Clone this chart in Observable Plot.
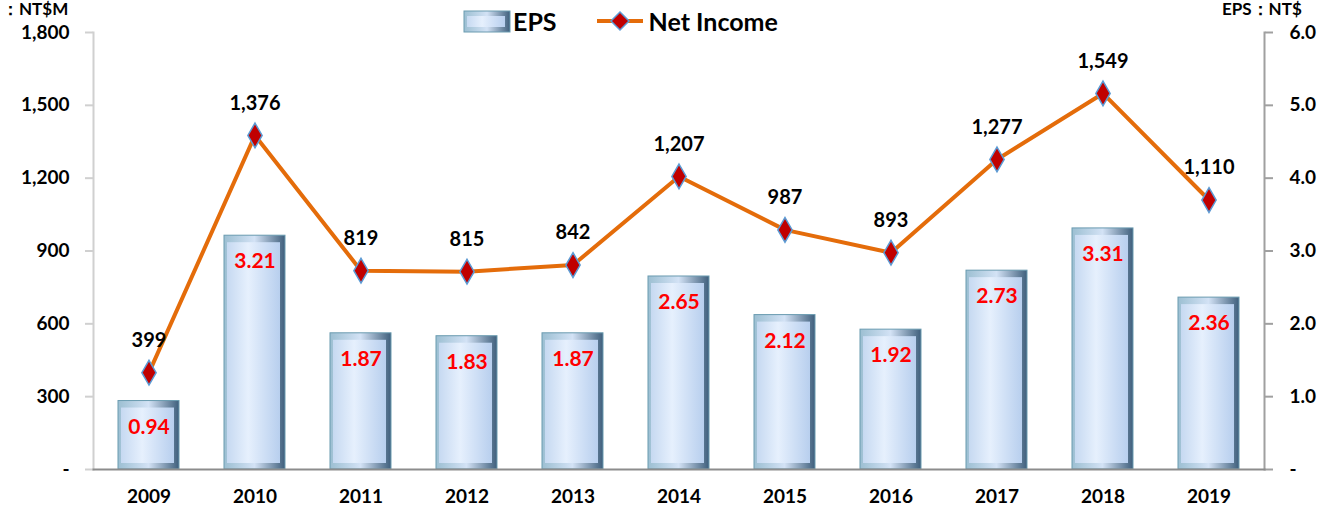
<!DOCTYPE html>
<html>
<head>
<meta charset="utf-8">
<script src="https://cdn.jsdelivr.net/npm/d3@7"></script>
<script src="https://cdn.jsdelivr.net/npm/@observablehq/plot@0.6"></script>
<style>
  html, body { margin: 0; padding: 0; background: #fff; overflow: hidden; }
  body { width: 1321px; height: 508px; position: relative; font-family: Lato, "Open Sans", sans-serif; }
  #chart { position: absolute; left: 0; top: 0; }
  .unit { position: absolute; font-weight: 700; font-size: 17px; line-height: 18px; color: #000; white-space: nowrap; }
  #legend { position: absolute; left: 463px; top: 6px; display: flex; align-items: center; font-weight: 700; font-size: 25px; color: #000; }
  #legend .item { display: flex; align-items: center; }
</style>
</head>
<body>
<div id="chart"></div>
<div class="unit" id="unitL" style="left:2px; top:0px;">：NT$M</div>
<div class="unit" id="unitR" style="left:1222px; top:0px;">EPS：NT$</div>
<div id="legend">
  <div class="item">
    <svg width="48" height="24" style="margin-right:2px">
      <defs>
        <linearGradient id="lgEdge" x1="0" x2="1" y1="0" y2="0">
          <stop offset="0" stop-color="#9cbfd2"/><stop offset="0.5" stop-color="#d3e2f5"/><stop offset="1" stop-color="#3f5f7c"/>
        </linearGradient>
        <linearGradient id="lgFace" x1="0" x2="1" y1="0" y2="0">
          <stop offset="0" stop-color="#c6d9f1"/><stop offset="0.4" stop-color="#e6f0fd"/><stop offset="1" stop-color="#b8cfee"/>
        </linearGradient>
      </defs>
      <rect x="1" y="2" width="46" height="21" fill="url(#lgEdge)" stroke="#6a9bb0"/>
      <rect x="4" y="7" width="38" height="11" fill="url(#lgFace)"/>
    </svg>
    <span>EPS</span>
  </div>
  <div class="item" style="margin-left:38px">
    <svg width="50" height="24" style="margin-right:4px">
      <line x1="2" y1="12" x2="48" y2="12" stroke="#e46c0a" stroke-width="4"/>
      <path d="M25,3 L34,12 L25,21 L16,12 Z" fill="#c00000" stroke="#5b9bd5" stroke-width="1.5"/>
    </svg>
    <span>Net Income</span>
  </div>
</div>
<script>
const years = ["2009","2010","2011","2012","2013","2014","2015","2016","2017","2018","2019"];
const eps = [0.94, 3.21, 1.87, 1.83, 1.87, 2.65, 2.12, 1.92, 2.73, 3.31, 2.36];
const netIncome = [399, 1376, 819, 815, 842, 1207, 987, 893, 1277, 1549, 1110];
const leftTicks = [0, 300, 600, 900, 1200, 1500, 1800];
const rightTicks = [0, 1, 2, 3, 4, 5, 6];
const ratio = 1800 / 6; // right EPS axis 0..6 maps to left 0..1800

const data = years.map((y, i) => ({year: y, eps: eps[i], ni: netIncome[i]}));
const fmt = d3.format(",");

const font = "Lato, 'Open Sans', sans-serif";

const chart = Plot.plot({
  width: 1321,
  height: 508,
  marginLeft: 93,
  marginRight: 57,
  marginTop: 32,
  marginBottom: 39,
  style: {fontFamily: font, fontWeight: 700, fontSize: "18px", color: "#000", background: "#fff"},
  x: {domain: years, paddingInner: 0.42, paddingOuter: 0.21, label: null},
  y: {domain: [0, 1800], label: null},
  marks: [
    Plot.barY(data, {x: "year", y: d => d.eps * ratio, fill: "url(#barEdge)", stroke: "#6a9bb0", strokeWidth: 1}),
    Plot.barY(data, {x: "year", y1: 0, y2: d => d.eps * ratio, fill: "url(#barFace)", insetLeft: 3, insetRight: 5, insetTop: 7, insetBottom: 6}),
    Plot.text(data, {x: "year", y: d => d.eps * ratio, text: d => d.eps.toFixed(2), dy: 26, fill: "#ff0000", fontSize: 21, fontWeight: 700}),
    Plot.axisY({anchor: "left", ticks: leftTicks, tickFormat: d => d === 0 ? "-" : fmt(d), tickSize: 8, tickPadding: 16, stroke: "#d0d0d0", strokeWidth: 2, fontSize: 19, label: null}),
    Plot.axisY({anchor: "right", ticks: rightTicks.map(t => t * ratio), tickFormat: d => d === 0 ? "-" : (d / ratio).toFixed(1), tickSize: 8, tickPadding: 17, stroke: "#a0a0a0", strokeWidth: 2, fontSize: 19, label: null}),
    Plot.frame({anchor: "left", stroke: "#d0d0d0", strokeWidth: 2}),
    Plot.frame({anchor: "right", stroke: "#a0a0a0", strokeWidth: 2}),
    Plot.frame({anchor: "bottom", stroke: "#8c8c8c", strokeWidth: 2}),
    Plot.axisX({tickSize: 0, tickPadding: 20, fontSize: 19, label: null}),
    Plot.lineY(data, {x: "year", y: "ni", stroke: "#e46c0a", strokeWidth: 4}),
    Plot.dot(data, {x: "year", y: "ni", symbol: "diamond", r: 7.5, fill: "#c00000", stroke: "#5b9bd5", strokeWidth: 1.5}),
    Plot.text(data, {x: "year", y: "ni", text: d => fmt(d.ni), dy: -32, fill: "#000", fontSize: 20, fontWeight: 700})
  ]
});

const svg = d3.select(chart);
const defs = svg.insert("defs", ":first-child");
const edge = defs.append("linearGradient").attr("id", "barEdge").attr("x1", 0).attr("x2", 1).attr("y1", 0).attr("y2", 0);
edge.append("stop").attr("offset", 0).attr("stop-color", "#9cbfd2");
edge.append("stop").attr("offset", 0.5).attr("stop-color", "#d3e2f5");
edge.append("stop").attr("offset", 1).attr("stop-color", "#3f5f7c");
const face = defs.append("linearGradient").attr("id", "barFace").attr("x1", 0).attr("x2", 1).attr("y1", 0).attr("y2", 0);
face.append("stop").attr("offset", 0).attr("stop-color", "#c6d9f1");
face.append("stop").attr("offset", 0.4).attr("stop-color", "#e6f0fd");
face.append("stop").attr("offset", 1).attr("stop-color", "#b8cfee");

document.getElementById("chart").appendChild(chart);
</script>
</body>
</html>
